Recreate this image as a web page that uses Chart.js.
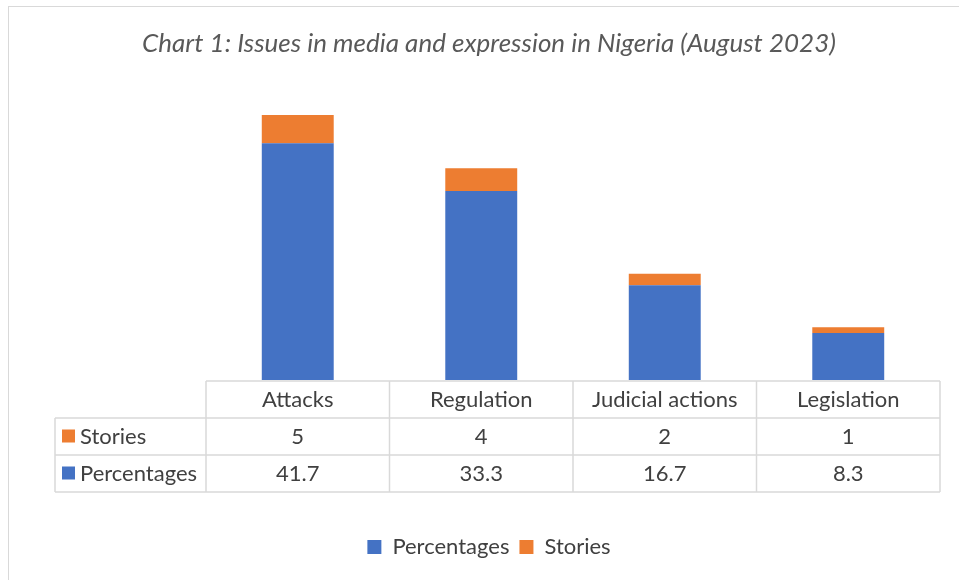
<!DOCTYPE html>
<html>
<head>
<meta charset="utf-8">
<script src="https://cdn.jsdelivr.net/npm/chart.js@4.4.0/dist/chart.umd.min.js"></script>
<style>
  body { margin: 0; background: #fff; }
  #wrap { width: 959px; height: 580px; }
</style>
</head>
<body>
<div id="wrap"><canvas id="chart" width="959" height="580"></canvas></div>
<script>
const categories = ['Attacks', 'Regulation', 'Judicial actions', 'Legislation'];
const percentages = [41.7, 33.3, 16.7, 8.3];
const stories = [5, 4, 2, 1];

const BLUE = '#4472C4';
const ORANGE = '#ED7D31';
const FONT = 'Lato, "Open Sans", sans-serif';

// rows shown in the data table, top to bottom
const tableRows = [
  { label: 'Stories', values: stories, color: ORANGE },
  { label: 'Percentages', values: percentages, color: BLUE }
];

const tablePlugin = {
  id: 'dataTable',
  beforeDraw(chart) {
    const c = chart.ctx;
    c.save();
    c.strokeStyle = '#d9d9d9';
    c.lineWidth = 1;
    c.strokeRect(8.5, 6.5, 1200, 800);
    c.restore();
  },
  afterDraw(chart) {
    const c = chart.ctx;
    const ca = chart.chartArea;
    const xs = chart.scales.x;
    const rowH = 37;
    const labelLeft = ca.left - 151;
    const colW = (ca.right - ca.left) / categories.length;
    const top = ca.bottom + 1;

    c.save();
    c.strokeStyle = '#d9d9d9';
    c.lineWidth = 1.5;
    c.beginPath();
    // horizontals
    c.moveTo(ca.left, top); c.lineTo(ca.right, top);
    for (let r = 1; r <= tableRows.length + 1; r++) {
      c.moveTo(labelLeft, top + r * rowH); c.lineTo(ca.right, top + r * rowH);
    }
    // verticals
    for (let i = 0; i <= categories.length; i++) {
      const x = ca.left + i * colW;
      c.moveTo(x, top); c.lineTo(x, top + (tableRows.length + 1) * rowH);
    }
    c.moveTo(labelLeft, top + rowH); c.lineTo(labelLeft, top + (tableRows.length + 1) * rowH);
    c.stroke();

    c.font = '22px ' + FONT;
    c.fillStyle = '#404040';
    c.textAlign = 'center';
    c.textBaseline = 'middle';
    categories.forEach((cat, i) => {
      c.fillText(cat, xs.getPixelForValue(i), top + rowH / 2);
    });
    tableRows.forEach((row, r) => {
      const y = top + (r + 1) * rowH + rowH / 2;
      row.values.forEach((v, i) => {
        c.fillStyle = '#404040';
        c.textAlign = 'center';
        c.fillText(String(v), xs.getPixelForValue(i), y);
      });
      c.fillStyle = row.color;
      c.fillRect(labelLeft + 7, y - 7, 13, 13);
      c.fillStyle = '#404040';
      c.textAlign = 'left';
      c.fillText(row.label, labelLeft + 25, y);
    });
    c.restore();
  }
};

new Chart(document.getElementById('chart').getContext('2d'), {
  type: 'bar',
  data: {
    labels: categories,
    datasets: [
      { label: 'Percentages', data: percentages, backgroundColor: BLUE },
      { label: 'Stories', data: stories, backgroundColor: ORANGE }
    ]
  },
  options: {
    responsive: false,
    animation: false,
    layout: { padding: { left: 38, right: 19, top: 6, bottom: 12 } },
    datasets: { bar: { barPercentage: 1, categoryPercentage: 0.392 } },
    scales: {
      x: {
        stacked: true,
        grid: { display: false },
        border: { display: false },
        ticks: { display: false },
        afterFit(scale) { scale.height = 146; }
      },
      y: {
        stacked: true,
        min: 0,
        max: 50,
        grid: { display: false },
        border: { display: false },
        ticks: { display: false },
        afterFit(scale) { scale.width = 168; }
      }
    },
    plugins: {
      title: {
        display: true,
        text: 'Chart 1: Issues in media and expression in Nigeria (August 2023)',
        color: '#595959',
        font: { family: FONT, size: 26, style: 'italic', weight: 'normal' },
        padding: { top: 22, bottom: 37 }
      },
      legend: {
        position: 'bottom',
        labels: {
          boxWidth: 14,
          boxHeight: 14,
          padding: 10,
          color: '#404040',
          font: { family: FONT, size: 22 }
        }
      },
      tooltip: { enabled: false }
    }
  },
  plugins: [tablePlugin]
});
</script>
</body>
</html>
